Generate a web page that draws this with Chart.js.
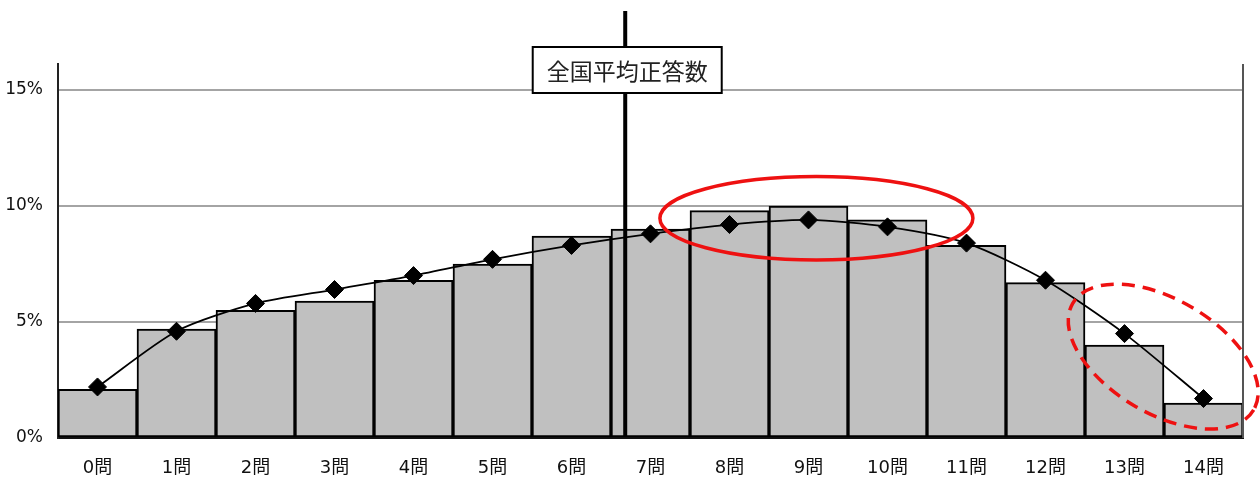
<!DOCTYPE html>
<html>
<head>
<meta charset="utf-8">
<script src="https://cdn.jsdelivr.net/npm/chart.js@4.4.1/dist/chart.umd.min.js"></script>
<style>
  html, body { margin: 0; padding: 0; background: #fff; }
  #wrap { width: 1260px; height: 479px; position: relative; }
</style>
</head>
<body>
<div id="wrap"><canvas id="c"></canvas></div>
<script>
// 正答数の分布（問題数ごとの生徒の割合）
const categories = ['0問','1問','2問','3問','4問','5問','6問','7問','8問','9問','10問','11問','12問','13問','14問'];
// 本校の割合（棒）
const schoolShare = [2.1, 4.7, 5.5, 5.9, 6.8, 7.5, 8.7, 9.0, 9.8, 10.0, 9.4, 8.3, 6.7, 4.0, 1.5];
// 全国の割合（折れ線）
const nationalShare = [2.2, 4.6, 5.8, 6.4, 7.0, 7.7, 8.3, 8.8, 9.2, 9.4, 9.1, 8.4, 6.8, 4.5, 1.7];
// 縦軸の目盛り（%）
const yTicks = [0, 5, 10, 15];
// 全国平均正答数（問）
const nationalMean = 6.68;
const meanLabel = '全国平均正答数';

// 全国平均の縦線とラベル、注目範囲の楕円を描く
const overlay = {
  id: 'overlay',
  afterDatasetsDraw(chart) {
    const { ctx, chartArea, scales: { x, y } } = chart;
    ctx.save();

    // 右側の枠線
    ctx.strokeStyle = '#555';
    ctx.lineWidth = 2;
    ctx.beginPath();
    ctx.moveTo(chartArea.right, chartArea.top);
    ctx.lineTo(chartArea.right, chartArea.bottom);
    ctx.stroke();

    // 全国平均正答数の縦線
    const mx = x.getPixelForValue(nationalMean);
    ctx.strokeStyle = '#000';
    ctx.lineWidth = 4;
    ctx.beginPath();
    ctx.moveTo(mx, 11);
    ctx.lineTo(mx, chartArea.bottom - 2);
    ctx.stroke();

    // ラベルの枠
    const bw = 189, bh = 46, bx = mx - bw / 2 + 2, by = 47;
    ctx.fillStyle = '#fff';
    ctx.fillRect(bx, by, bw, bh);
    ctx.lineWidth = 2;
    ctx.strokeRect(bx, by, bw, bh);
    ctx.fillStyle = '#222';
    ctx.font = '23px "Noto Sans CJK JP"';
    ctx.textAlign = 'center';
    ctx.textBaseline = 'middle';
    ctx.fillText(meanLabel, bx + bw / 2, by + bh / 2 + 1);

    // 上位の山（実線の楕円）
    ctx.strokeStyle = '#ee1111';
    ctx.lineWidth = 3.5;
    ctx.beginPath();
    ctx.ellipse(x.getPixelForValue(9.1), y.getPixelForValue(9.47), 156.5, 41.7, 0, 0, Math.PI * 2);
    ctx.stroke();

    // 13問・14問（破線の楕円）
    ctx.setLineDash([13, 8]);
    ctx.beginPath();
    ctx.ellipse(x.getPixelForValue(13.49), y.getPixelForValue(3.51), 105, 57, 30.5 * Math.PI / 180, 0, Math.PI * 2);
    ctx.stroke();

    ctx.restore();
  }
};

new Chart(document.getElementById('c'), {
  data: {
    labels: categories,
    datasets: [
      {
        type: 'line',
        data: nationalShare,
        borderColor: '#000',
        borderWidth: 1.8,
        tension: 0.25,
        pointStyle: 'rectRot',
        pointRadius: 9,
        pointBackgroundColor: '#000',
        pointBorderColor: '#000',
        pointBorderWidth: 1,
        order: 0
      },
      {
        type: 'bar',
        data: schoolShare,
        backgroundColor: '#c0c0c0',
        borderColor: '#000',
        borderWidth: 2,
        borderSkipped: false,
        barPercentage: 1,
        categoryPercentage: 1,
        order: 1
      }
    ]
  },
  options: {
    responsive: true,
    maintainAspectRatio: false,
    animation: false,
    devicePixelRatio: 1,
    layout: { padding: { top: 64, right: 17, left: 0, bottom: 0 } },
    plugins: { legend: { display: false }, tooltip: { enabled: false } },
    scales: {
      x: {
        offset: true,
        grid: { display: false, drawTicks: false },
        border: { display: true, color: '#111', width: 2 },
        ticks: {
          color: '#111',
          padding: 20,
          maxRotation: 0,
          autoSkip: false,
          font: { family: '"DejaVu Sans", "Noto Sans CJK JP"', size: 18 }
        },
        afterFit(scale) { scale.height = 41; }
      },
      y: {
        min: 0,
        max: 16.12,
        grid: { color: '#a4a4a4', lineWidth: 2, drawTicks: false },
        border: { display: true, color: '#222', width: 2 },
        ticks: {
          color: '#111',
          padding: 15,
          font: { family: '"DejaVu Sans"', size: 17 },
          callback: v => v + '%'
        },
        afterBuildTicks(scale) { scale.ticks = yTicks.map(v => ({ value: v })); },
        afterFit(scale) { scale.width = 58; }
      }
    }
  },
  plugins: [overlay]
});
</script>
</body>
</html>
